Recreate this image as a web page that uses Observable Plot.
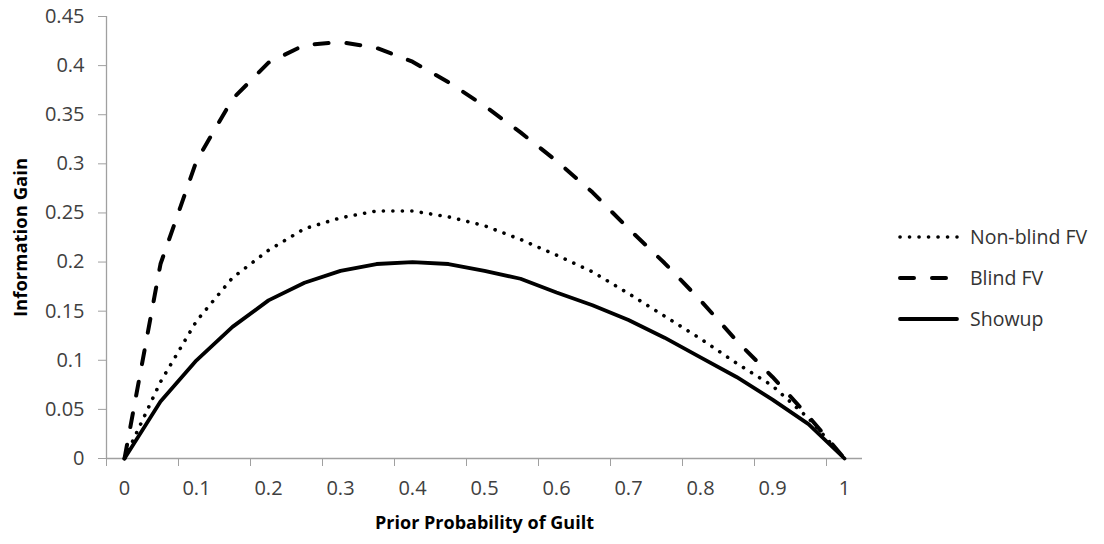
<!DOCTYPE html>
<html>
<head>
<meta charset="utf-8">
<script src="https://cdn.jsdelivr.net/npm/d3@7"></script>
<script src="https://cdn.jsdelivr.net/npm/@observablehq/plot@0.6"></script>
<style>
  html, body { margin: 0; padding: 0; background: #fff; }
  #wrap { position: relative; width: 1104px; height: 544px; overflow: hidden; font-family: "Open Sans", sans-serif; }
  #legend { position: absolute; left: 897px; top: 216px; }
  .row { display: flex; align-items: center; height: 41px; margin-top: 0; }
  .row svg { width: 64px; height: 20px; display: block; }
  .row span { margin-left: 9px; font-size: 19.5px; color: #333; white-space: nowrap; }
</style>
</head>
<body>
<div id="wrap"></div>
<script>
// Prior probability of guilt (categories)
const priors = [0, 0.05, 0.1, 0.15, 0.2, 0.25, 0.3, 0.35, 0.4, 0.45, 0.5,
                0.55, 0.6, 0.65, 0.7, 0.75, 0.8, 0.85, 0.9, 0.95, 1];
// Series values (information gain)
const nonBlindFV = [0, 0.078, 0.140, 0.184, 0.212, 0.234, 0.245, 0.252, 0.252, 0.246, 0.237,
                    0.223, 0.207, 0.190, 0.168, 0.145, 0.122, 0.097, 0.074, 0.041, 0];
const blindFV = [0, 0.198, 0.303, 0.366, 0.403, 0.421, 0.424, 0.418, 0.404, 0.383, 0.359,
                 0.332, 0.303, 0.271, 0.234, 0.199, 0.161, 0.120, 0.083, 0.043, 0];
const showup = [0, 0.058, 0.100, 0.134, 0.161, 0.179, 0.191, 0.198, 0.200, 0.198, 0.191,
                0.183, 0.169, 0.156, 0.141, 0.123, 0.103, 0.083, 0.060, 0.035, 0];
// Tick labels
const yTicks = [0, 0.05, 0.1, 0.15, 0.2, 0.25, 0.3, 0.35, 0.4, 0.45];
const xLabels = [0, 0.1, 0.2, 0.3, 0.4, 0.5, 0.6, 0.7, 0.8, 0.9, 1];
const seriesNames = ["Non-blind FV", "Blind FV", "Showup"];

const half = 0.025; // half category width (Excel category axis)
const xBoundaries = xLabels.map(v => v - half);

const rows = (vals) => priors.map((p, i) => ({x: p, y: vals[i]}));
const fmt = d => String(+d.toFixed(2));

const axisGray = "#a0a0a0";
const textGray = "#404040";

const chart = Plot.plot({
  width: 1104,
  height: 544,
  marginLeft: 106,
  marginRight: 242,
  marginTop: 16,
  marginBottom: 86,
  style: {fontFamily: "Open Sans, sans-serif", fontSize: "20px", color: textGray, background: "#fff"},
  x: {domain: [-half, 1 + half], axis: null},
  y: {domain: [0, 0.45], axis: null},
  marks: [
    // axis lines
    Plot.ruleY([0], {stroke: axisGray, strokeWidth: 1.3}),
    Plot.ruleX([-half], {stroke: axisGray, strokeWidth: 1.3}),
    // y axis ticks + labels
    Plot.axisY({ticks: yTicks, tickFormat: fmt, tickSize: 8, tickPadding: 14,
                stroke: axisGray, fill: textGray, label: null, fontSize: 20}),
    // x axis boundary ticks (no labels)
    Plot.axisX({ticks: xBoundaries, tickFormat: () => "", tickSize: 8,
                stroke: axisGray, label: null}),
    // x axis labels at category centres
    Plot.axisX({ticks: xLabels, tickFormat: fmt, tickSize: 0, tickPadding: 22,
                fill: textGray, label: null, fontSize: 20}),
    // axis titles
    Plot.text(["Information Gain"], {frameAnchor: "left", textAnchor: "middle", text: d => d,
               rotate: -90, dx: -85, fontWeight: "bold", fontSize: 18.5, fill: "#000"}),
    Plot.text(["Prior Probability of Guilt"], {frameAnchor: "bottom", textAnchor: "middle", text: d => d,
               dy: 65, lineAnchor: "middle", fontWeight: "bold", fontSize: 18, fill: "#000"}),
    // series
    Plot.line(rows(nonBlindFV), {x: "x", y: "y", stroke: "#000", strokeWidth: 3.6,
               strokeDasharray: "0.1,9.4", strokeLinecap: "round"}),
    Plot.line(rows(blindFV), {x: "x", y: "y", stroke: "#000", strokeWidth: 4,
               strokeDasharray: "14,18", strokeLinecap: "round"}),
    Plot.line(rows(showup), {x: "x", y: "y", stroke: "#000", strokeWidth: 3.8,
               strokeLinejoin: "round", strokeLinecap: "round"})
  ]
});

const wrap = document.getElementById("wrap");
wrap.appendChild(chart);

// legend (to the right of the plot area)
const styles = [
  {dash: "0.1,9.4", w: 3.6},
  {dash: "14,18", w: 4},
  {dash: null, w: 3.8}
];
const legend = document.createElement("div");
legend.id = "legend";
seriesNames.forEach((name, i) => {
  const row = document.createElement("div");
  row.className = "row";
  const s = styles[i];
  row.innerHTML = `<svg viewBox="0 0 64 20"><line x1="3" x2="${i === 1 ? 54 : 60}" y1="10" y2="10" stroke="#000" stroke-width="${s.w}" stroke-linecap="round" ${s.dash ? `stroke-dasharray="${s.dash}"` : ""}/></svg><span>${name}</span>`;
  legend.appendChild(row);
});
wrap.appendChild(legend);
</script>
</body>
</html>
